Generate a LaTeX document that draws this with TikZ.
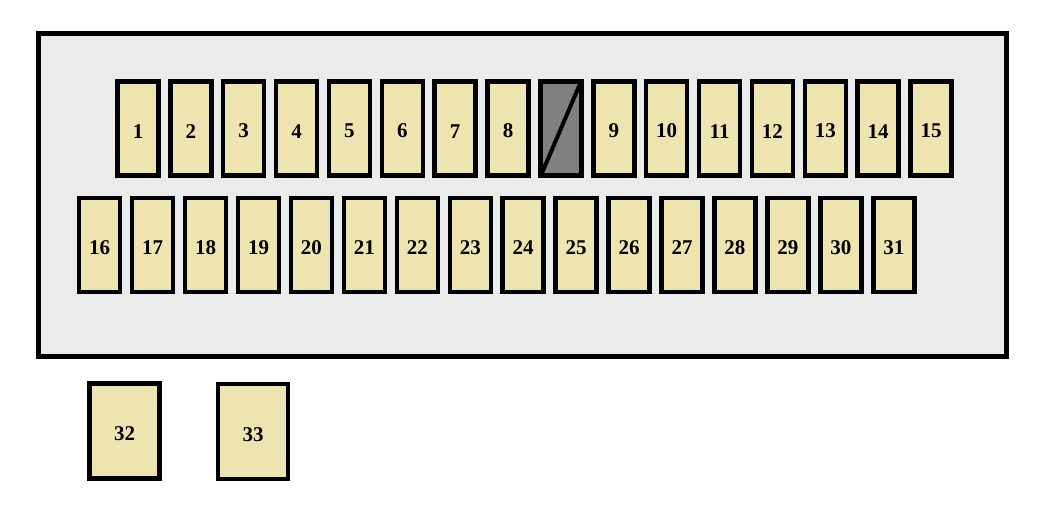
\documentclass[tikz,border=0pt]{standalone}
\usepackage{fontspec}
\setmainfont{Liberation Serif}
\definecolor{fusefill}{RGB}{238,228,176}
\definecolor{panelfill}{RGB}{235,235,235}
\definecolor{blankfill}{RGB}{128,128,128}
\begin{document}
\begin{tikzpicture}[x=1pt,y=-1pt,
  fuse/.style={draw=black,line width=4.5pt,fill=fusefill,minimum width=41pt,minimum height=94pt,inner sep=0pt,text height=19pt,font=\fontsize{21}{21}\selectfont\bfseries},
  bigfuse/.style={fuse,minimum width=70pt,minimum height=95pt},
  blank/.style={fuse,fill=blankfill},
  panel/.style={draw=black,line width=5pt,fill=panelfill}]
\useasboundingbox (0,0) rectangle (1056,508);
\path[fill=white] (0,0) rectangle (1056,508);
\draw[panel] (38.5,33.5) rectangle (1006,356);
% top row
\foreach \n [count=\i from 0] in {1,2,3,4,5,6,7,8} {
  \node[fuse] (f\n) at ({138+\i*52.87},128.5) {\n};
}
\node[blank] (g) at ({138+8*52.87},128.5) {};
\draw[line width=4pt] ([xshift=3pt,yshift=3pt]g.south west) -- ([xshift=-3pt,yshift=-3pt]g.north east);
\foreach \n [count=\i from 9] in {9,10,11,12,13,14,15} {
  \node[fuse] (f\n) at ({138+\i*52.87},128.5) {\n};
}
% second row
\foreach \n [count=\i from 0] in {16,17,18,19,20,21,22,23,24,25,26,27,28,29,30,31} {
  \node[fuse] (f\n) at ({99.7+\i*52.94},245.2) {\n};
}
% outside
\node[bigfuse] (f32) at (124.5,431) {32};
\node[bigfuse] (f33) at (253,431.7) {33};
\end{tikzpicture}
\end{document}
